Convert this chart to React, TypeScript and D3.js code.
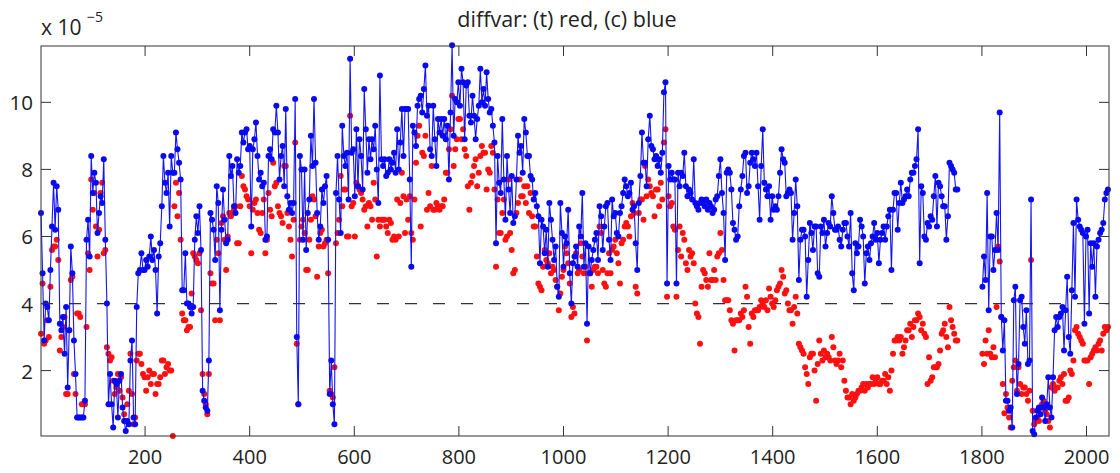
import React from "react";
import * as d3 from "d3";

// sample index of the first value and spacing between values
const SAMPLE_START = 1;
const SAMPLE_STEP = 3;

// (c) series, units of 1e-5 (null = no data)
const blueC: (number | null)[] = [
  // 1 .. 340
  6.7, 4.9, 2.9, 4.0, 3.9, 3.5, 5.0, 6.3, 7.6, 6.2, 7.5, 6.8, 3.4, 3.2, 3.6, 2.5, 3.9, 1.5, 3.2, 5.7,
  4.9, 2.9, 1.9, 0.6, 0.6, 0.6, 0.6, 0.6, 1.1, 5.9, 6.5, 5.4, 8.4, 7.3, 7.9, 7.6, 6.1, 6.7, 7.2, 7.0,
  8.3, 5.9, 4.0, 1.0, 1.9, 1.0, 0.3, 1.7, 1.6, 0.6, 1.7, 1.9, 0.9, 0.5, 0.2, 0.5, 0.4, 2.3, 2.9, 0.6,
  0.4, 3.9, 4.9, 5.0, 5.5, 5.0, 5.0, 5.3, 5.1, 5.4, 6.0, 5.3, 5.6, 5.0, 3.7, 5.4, 5.8, 6.9, 8.4, 7.6,
  7.3, 7.9, 6.3, 8.4, 7.9, 7.9, 9.1, 8.6, 8.2, 7.7, 4.4, 4.4, 5.5, 4.0, 4.0, 3.9, 3.7, 3.9, 5.9, 6.6,
  6.1, 6.9, 5.6, 1.4, 1.1, 0.9, 0.8, 2.3, 6.7, 6.5, 6.2, 5.3, 7.5, 7.0,
  // 343 .. 679
  3.8, 6.2, 7.4, 6.5, 5.8, 5.9, 8.4, 7.8, 8.1, 6.9, 6.7, 8.3, 7.9, 8.1, 9.1, 8.8, 9.1, 9.2, 8.6, 8.7,
  6.3, 8.6, 8.9, 9.4, 8.4, 7.7, 7.9, 7.5, 7.6, 5.9, 6.0, 8.4, 8.6, 8.3, 9.2, 9.1, 9.9, 9.1, 7.7, 8.4,
  8.7, 7.5, 9.8, 7.2, 6.8, 7.0, 6.7, 7.0, 10.1, 3.0, 1.0, 8.4, 8.0, 5.9, 8.0, 5.6, 6.7, 7.1, 9.0, 8.1,
  10.1, 8.2, 6.7, 5.9, 6.3, 7.4, 7.0, 7.5, 7.8, 5.9, 1.3, 2.3, 1.0, 0.4, 7.3, 8.4, 7.1, 6.1, 9.3, 8.4,
  8.1, 8.5, 7.1, 11.3, 8.5, 8.6, 7.2, 9.2, 7.5, 8.9, 8.4, 7.4, 10.4, 9.2, 7.9, 8.9, 8.3, 8.9, 8.6, 9.3,
  8.0, 7.0, 10.8, 8.3, 8.1, 8.3, 7.8, 7.9, 8.3, 8.0, 8.2, 8.5, 7.9,
  // 682 .. 1027
  9.2, 8.0, 8.8, 9.8, 8.4, 9.8, 9.8, 9.8, 7.7, 5.1, 9.3, 9.1, 8.7, 9.9, 10.1, 10.2, 9.7, 10.4, 11.1, 9.6,
  9.9, 8.6, 8.4, 9.9, 8.9, 8.1, 9.5, 9.1, 9.5, 9.0, 9.5, 8.9, 9.3, 7.7, 9.7, 11.7, 9.0, 10.1, 10.0, 10.6,
  9.9, 11.0, 10.6, 8.9, 10.5, 10.6, 9.6, 9.4, 10.2, 9.6, 8.9, 9.5, 9.9, 11.0, 10.0, 10.4, 9.9, 10.9, 10.1, 9.7,
  9.8, 9.3, 8.8, 5.8, 8.4, 7.6, 7.3, 9.5, 7.7, 6.5, 8.4, 7.4, 6.7, 7.8, 6.4, 6.6, 7.7, 9.0, 8.5, 8.7,
  7.9, 9.5, 9.1, 8.4, 8.4, 7.8, 7.7, 7.1, 7.3, 6.9, 6.6, 5.2, 6.5, 6.3, 5.5, 6.2, 5.1, 7.0, 6.5, 5.9,
  5.3, 5.7, 4.5, 4.2, 7.0, 6.1, 5.1, 6.0, 5.8, 6.8, 4.9, 4.0, 5.2, 5.4, 5.7, 5.1,
  // 1030 .. 1369
  6.3, 6.0, 7.3, 5.1, 5.8, 3.4, 5.7, 4.9, 5.3, 5.6, 5.9, 6.1, 5.3, 6.9, 6.6, 5.6, 6.3, 6.9, 7.0, 5.9,
  5.3, 7.1, 6.6, 6.7, 6.1, 6.0, 6.7, 6.9, 7.3, 7.7, 7.5, 7.2, 7.3, 7.6, 6.8, 6.9, 5.8, 5.0, 7.0, 7.8,
  9.1, 8.2, 8.2, 7.5, 8.9, 9.6, 8.7, 8.6, 8.3, 8.4, 8.1, 8.3, 7.9, 8.5, 10.3, 10.6, 4.6, 8.1, 7.7, 7.9,
  7.7, 7.7, 4.6, 7.9, 7.5, 7.9, 7.8, 8.5, 7.5, 7.2, 7.4, 7.3, 7.1, 8.3, 7.0, 6.9, 6.8, 7.0, 7.1, 7.0,
  6.9, 7.1, 6.8, 7.0, 6.9, 6.7, 6.8, 7.1, 7.2, 7.8, 8.3, 7.3, 6.7, 5.3, 7.9, 8.0, 7.9, 7.4, 6.4, 6.2,
  5.9, 6.0, 6.9, 7.4, 7.8, 8.4, 8.5, 7.3, 7.5, 8.2, 8.5, 8.3, 8.1, 8.5,
  // 1372 .. 1711
  7.5, 6.5, 8.1, 9.2, 7.6, 7.4, 7.2, 7.5, 6.5, 7.2, 6.8, 6.9, 6.8, 7.2, 7.9, 8.6, 8.3, 8.2, 7.2, 7.3,
  7.4, 7.3, 5.9, 6.7, 7.7, 6.9, 4.7, 5.9, 6.2, 6.2, 6.0, 4.2, 5.3, 6.4, 6.1, 5.6, 6.3, 6.3, 4.9, 4.8,
  6.3, 6.1, 6.5, 5.7, 6.1, 6.4, 6.3, 7.2, 6.7, 6.2, 6.2, 6.3, 5.9, 5.7, 6.2, 6.4, 6.4, 6.0, 5.7, 6.7,
  4.9, 4.4, 5.8, 5.5, 5.7, 6.5, 6.3, 6.0, 4.6, 5.5, 5.7, 5.3, 5.8, 6.0, 6.4, 5.9, 6.1, 5.2, 5.9, 6.1,
  6.3, 5.9, 6.3, 6.6, 6.8, 5.0, 6.8, 7.3, 7.3, 6.2, 7.0, 7.6, 7.0, 7.1, 7.2, 7.4, 7.2, 7.7, 7.9, 7.9,
  8.1, 8.3, 9.2, 5.2, 7.5, 7.3, 6.0, 5.9, 6.4, 6.3, 6.6, 6.5, 7.2, 7.8,
  // 1714 .. 2041
  6.3, 7.6, 7.5, 7.2, 6.9, 6.9, 5.9, 6.6, 8.2, 8.1, 8.0, 7.9, 7.4, 7.4,
  null, null, null, null, null, null, null, null, null, null, null, null, null, null, null,
  4.5, 5.4, 4.7, 7.3, 3.8, 6.0, 6.0, 5.0, 5.6, 6.7, 5.6, 9.7, 3.6, 2.6, 3.5, 1.1, 1.1, 0.8, 0.9, 0.3,
  4.1, 4.5, 1.3, 2.2, 4.1, 4.2, 3.3, 2.8, 3.8, 2.2, 2.3, 7.1, 0.2, 0.1, 0.6, 0.8, 0.9, 0.7, 1.2, 0.9,
  0.5, 1.0, 1.8, 0.9, 0.6, 1.8, 3.2, 3.6, 3.3, 3.6, 3.7, 3.9, 2.6, 3.8, 4.8, 3.0, 2.5, 4.4, 6.4, 4.2,
  7.1, 6.5, 6.3, 6.2, 6.1, 3.4, 6.0, 6.2, 3.7, 5.8, 5.1, 5.8, 4.2, 5.7, 5.9, 6.1, 6.2, 6.4, 7.1, 7.3,
  7.4,
];

// (t) series, units of 1e-5 (null = no data)
const redT: (number | null)[] = [
  // 1 .. 340
  3.1, 4.6, 2.8, 2.9, 3.5, 3.0, 4.5, 5.6, 5.7, 5.7, 5.9, 5.3, 2.6, 3.0, 3.3, 3.6, 1.3, 1.3, 3.2, 4.7,
  4.8, 1.9, 1.3, 3.7, 3.7, 3.6, 1.0, 1.0, 1.0, 3.3, 5.5, 5.0, 7.7, 6.8, 7.3, 6.3, 5.4, 6.2, 7.3, 7.6,
  5.5, 5.6, 2.7, 2.5, 2.3, 2.4, 1.7, 1.3, 1.5, 1.9, 1.4, 1.8, 1.2, 0.7, 0.5, 1.0, 1.4, 2.5, 1.3, 0.4,
  0.6, 2.3, 2.5, 2.5, 2.2, 1.9, 1.8, 1.4, 1.8, 2.0, 1.6, 1.9, 1.9, 1.3, 1.6, 1.6, 1.8, 2.3, 2.3, 1.9,
  2.1, 2.2, 2.0, 2.0, 0.05, 6.9, 7.6, 6.6, 7.3, 5.9, 3.7, 3.5, 3.5, 3.2, 3.3, 3.3, 4.3, 5.5, 5.4, 5.3,
  5.2, 5.5, 3.8, 1.9, 1.3, 1.0, 0.7, 1.9, 4.9, 4.6, 4.6, 3.5, 5.9, 5.5,
  // 343 .. 679
  3.5, 6.4, 6.6, 5.9, 5.0, 6.0, 6.7, 6.6, 6.7, 6.8, 6.9, 5.8, 5.8, 6.9, 7.8, 7.5, 7.4, 7.2, 7.1, 6.9,
  5.5, 6.8, 7.0, 7.1, 6.7, 6.2, 6.1, 6.7, 7.1, 5.5, 5.9, 7.3, 6.8, 6.6, 8.2, 7.5, 7.6, 6.9, 6.7, 6.6,
  6.4, 8.1, 8.1, 6.7, 6.3, 5.9, 5.4, 6.5, 8.8, 2.8, 1.0, 5.9, 6.3, 6.5, 6.1, 5.0, 5.0, 5.9, 6.5, 7.2,
  7.1, 6.6, 4.8, 5.7, 6.1, 6.2, 5.7, 5.8, 5.9, 4.9, 1.4, 1.3, 1.2, 2.1, 5.8, 6.1, 6.5, 7.8, 6.9, 7.4,
  7.4, 6.0, 6.0, 9.6, 6.9, 7.0, 6.0, 7.6, 7.5, 7.4, 7.3, 7.1, 6.8, 6.9, 6.3, 7.0, 6.9, 6.5, 7.6, 7.1,
  5.4, 6.5, 6.3, 6.5, 6.5, 6.5, 6.3, 6.1, 6.5, 6.4, 5.9, 6.0, 5.9,
  // 682 .. 1027
  7.1, 6.0, 7.0, 7.9, 7.2, 6.1, 7.1, 6.5, 7.2, 6.1, 5.9, 7.1, 8.2, 9.0, 9.3, 6.3, 8.5, 8.4, 9.0, 6.8,
  7.3, 6.9, 8.1, 6.8, 6.8, 7.0, 6.9, 6.8, 6.9, 6.9, 7.1, 7.9, 7.9, 8.6, 9.2, 10.2, 8.1, 8.6, 8.9, 9.5,
  9.5, 8.9, 9.2, 8.6, 8.4, 7.5, 6.8, 7.6, 7.8, 8.1, 8.3, 7.5, 7.9, 8.4, 8.7, 8.5, 8.5, 7.4, 8.0, 7.9,
  8.7, 8.5, 7.4, 5.1, 7.1, 6.1, 6.1, 6.7, 7.1, 5.9, 6.0, 7.7, 6.1, 5.6, 4.9, 5.0, 6.7, 7.0, 7.7, 7.2,
  7.2, 7.5, 7.0, 7.5, 6.7, 7.3, 6.6, 6.3, 6.3, 5.4, 4.6, 4.5, 4.4, 5.1, 5.6, 5.3, 5.2, 5.5, 4.9, 5.1,
  5.0, 4.7, 4.5, 3.8, 4.3, 4.8, 5.0, 5.7, 5.5, 5.2, 4.6, 3.6, 3.9, 3.7, 5.5, 4.9,
  // 1030 .. 1369
  5.0, 5.8, 5.4, 4.9, 5.1, 2.9, 4.9, 4.9, 4.5, 5.0, 5.1, 5.1, 4.9, 6.3, 6.1, 5.0, 4.6, 4.5, 4.9, 5.5,
  4.9, 5.6, 5.7, 5.9, 5.5, 5.2, 4.6, 5.8, 5.9, 6.3, 6.4, 6.3, 6.0, 6.6, 7.0, 6.7, 4.5, 4.3, 6.7, 7.1,
  7.1, 6.5, 8.1, 7.2, 7.7, 7.5, 7.3, 7.2, 6.6, 7.4, 7.4, 6.9, 7.6, 7.1, 8.8, 9.2, 4.2, 7.2, 6.9, 7.0,
  6.3, 6.2, 4.2, 5.6, 6.3, 5.4, 6.1, 5.9, 5.2, 5.0, 5.6, 5.4, 5.5, 5.2, 4.0, 3.7, 3.6, 2.8, 4.5, 5.0,
  4.9, 4.7, 4.5, 5.5, 4.7, 4.7, 5.0, 4.7, 5.4, 5.5, 6.1, 5.6, 4.7, 4.1, 4.1, 4.1, 3.8, 3.5, 3.4, 2.6,
  3.5, 3.5, 3.5, 3.7, 3.6, 3.8, 4.5, 4.2, 3.3, 2.8, 3.7, 3.6, 3.8, 3.8,
  // 1372 .. 1711
  3.8, 3.9, 4.1, 4.0, 3.9, 4.1, 3.8, 4.45, 4.2, 4.0, 3.9, 4.1, 4.4, 4.5, 4.6, 5.0, 4.8, 4.3, 4.4, 4.0,
  3.8, 3.8, 3.4, 3.9, 4.2, 3.7, 2.8, 2.7, 2.6, 2.5, 2.1, 1.9, 1.6, 2.4, 2.5, 2.5, 2.0, 1.1, 2.2, 2.9,
  2.5, 2.3, 2.6, 2.4, 2.5, 2.4, 2.3, 3.0, 2.7, 2.3, 2.2, 2.3, 2.5, 2.1, 2.3, 1.7, 1.4, 1.2, 1.2, 1.0,
  1.3, 1.1, 1.2, 1.3, 1.4, 1.4, 1.5, 1.6, 1.4, 1.6, 1.5, 1.6, 1.6, 1.8, 1.6, 1.7, 1.8, 1.6, 1.6, 1.7,
  1.7, 1.9, 1.6, 1.8, 1.4, 2.0, 2.5, 2.9, 2.9, 3.0, 2.9, 3.0, 2.5, 2.7, 2.9, 3.2, 3.2, 3.4, 3.0, 3.3,
  3.5, 3.5, 3.7, 3.6, 3.2, 3.4, 3.1, 3.0, 1.6, 2.4, 1.7, 1.8, 2.1, 2.1,
  // 1714 .. 2041
  2.1, 2.2, 2.6, 3.1, 3.2, 3.4, 3.0, 2.7, 3.9, 3.5, 3.3, 3.1, 2.9, 2.9,
  null, null, null, null, null, null, null, null, null, null, null, null, null, null, null,
  2.5, 2.2, 2.9, 2.5, 3.2, 2.5, 2.4, 2.7, 2.4, 3.9, 5.7, 5.25, 3.6, 1.6, 0.73, 1.3, 0.9, 0.6, 0.3, 1.7,
  2.1, 2.3, 1.4, 2.1, 1.6, 1.3, 1.5, 1.5, 1.3, 1.1, 1.4, 5.3, 0.8, 0.4, 0.5, 0.6, 0.5, 0.9, 1.0, 1.1,
  0.8, 0.7, 0.5, 0.3, 1.5, 1.6, 1.4, 1.5, 1.5, 1.7, 1.8, 1.6, 1.9, 1.1, 1.1, 1.2, 2.0, 1.9, 2.3, 3.2,
  3.3, 3.1, 3.0, 2.9, 2.8, 2.3, 2.3, 2.3, 1.6, 2.4, 2.5, 2.6, 2.7, 2.6, 2.8, 2.9, 2.6, 3.1, 3.3, 3.2,
  3.3,
];

const xTicks = [200, 400, 600, 800, 1000, 1200, 1400, 1600, 1800, 2000];
const yTicks = [2, 4, 6, 8, 10];
const thresholdValue = 4;
const titleText = "diffvar: (t) red, (c) blue";
const X_DOMAIN: [number, number] = [1, 2043];
const Y_DOMAIN: [number, number] = [0.05, 11.68];

const W = 1120;
const H = 473;
const M = { left: 41, right: 1109, top: 46, bottom: 436 };
const FONT = "'Open Sans', 'DejaVu Sans', sans-serif";
const TXT = "#222";

export default function App() {
  const x = d3.scaleLinear().domain(X_DOMAIN).range([M.left, M.right]);
  const y = d3.scaleLinear().domain(Y_DOMAIN).range([M.bottom, M.top]);

  const toPts = (arr: (number | null)[]) =>
    arr.map((v, i) => ({ s: SAMPLE_START + i * SAMPLE_STEP, v }));
  const bluePts = toPts(blueC);
  const redPts = toPts(redT).filter((d) => d.v != null);

  const line = d3
    .line<{ s: number; v: number | null }>()
    .defined((d) => d.v != null)
    .x((d) => x(d.s))
    .y((d) => y(d.v as number));

  const tickLen = 10;

  return (
    <div style={{ position: "absolute", left: 0, top: 0 }}>
      <svg width={W} height={H} style={{ display: "block", background: "#fff" }}>
        <rect x={0} y={0} width={W} height={H} fill="#fff" />
        {/* threshold dashed line */}
        <line
          x1={M.left}
          x2={M.right}
          y1={y(thresholdValue)}
          y2={y(thresholdValue)}
          stroke="#333"
          strokeWidth={1.3}
          strokeDasharray="12,16"
        />
        {/* red (t) points */}
        <g fill="#ff1010">
          {redPts.map((d, i) => (
            <circle key={i} cx={x(d.s)} cy={y(d.v as number)} r={3} />
          ))}
        </g>
        {/* blue (c) line and points */}
        <path d={line(bluePts) || ""} fill="none" stroke="#1515f0" strokeWidth={1.1} />
        <g fill="#0a0af0">
          {bluePts
            .filter((d) => d.v != null)
            .map((d, i) => (
              <circle key={i} cx={x(d.s)} cy={y(d.v as number)} r={3} />
            ))}
        </g>
        {/* frame */}
        <rect
          x={M.left}
          y={M.top}
          width={M.right - M.left}
          height={M.bottom - M.top}
          fill="none"
          stroke="#333"
          strokeWidth={1}
        />
        {/* x ticks */}
        {xTicks.map((t) => (
          <g key={"xt" + t}>
            <line x1={x(t)} x2={x(t)} y1={M.bottom} y2={M.bottom - tickLen} stroke="#333" />
            <line x1={x(t)} x2={x(t)} y1={M.top} y2={M.top + tickLen} stroke="#333" />
            <text
              x={x(t)}
              y={464}
              textAnchor="middle"
              fontFamily={FONT}
              fontSize={20}
              fill={TXT}
            >
              {t}
            </text>
          </g>
        ))}
        {/* y ticks */}
        {yTicks.map((t) => (
          <g key={"yt" + t}>
            <line x1={M.left} x2={M.left + tickLen} y1={y(t)} y2={y(t)} stroke="#333" />
            <line x1={M.right} x2={M.right - tickLen} y1={y(t)} y2={y(t)} stroke="#333" />
            <text
              x={33}
              y={y(t) + 8}
              textAnchor="end"
              fontFamily={FONT}
              fontSize={20.5}
              fill={TXT}
            >
              {t}
            </text>
          </g>
        ))}
        {/* exponent label */}
        <text x={41} y={35} fontFamily={FONT} fontSize={21} fill={TXT}>
          x 10
        </text>
        <text x={87} y={21.5} fontFamily={FONT} fontSize={14} fill={TXT}>
          −5
        </text>
        {/* title */}
        <text x={567} y={26.5} textAnchor="middle" fontFamily={FONT} fontSize={21.5} fill={TXT}>
          {titleText}
        </text>
      </svg>
    </div>
  );
}
